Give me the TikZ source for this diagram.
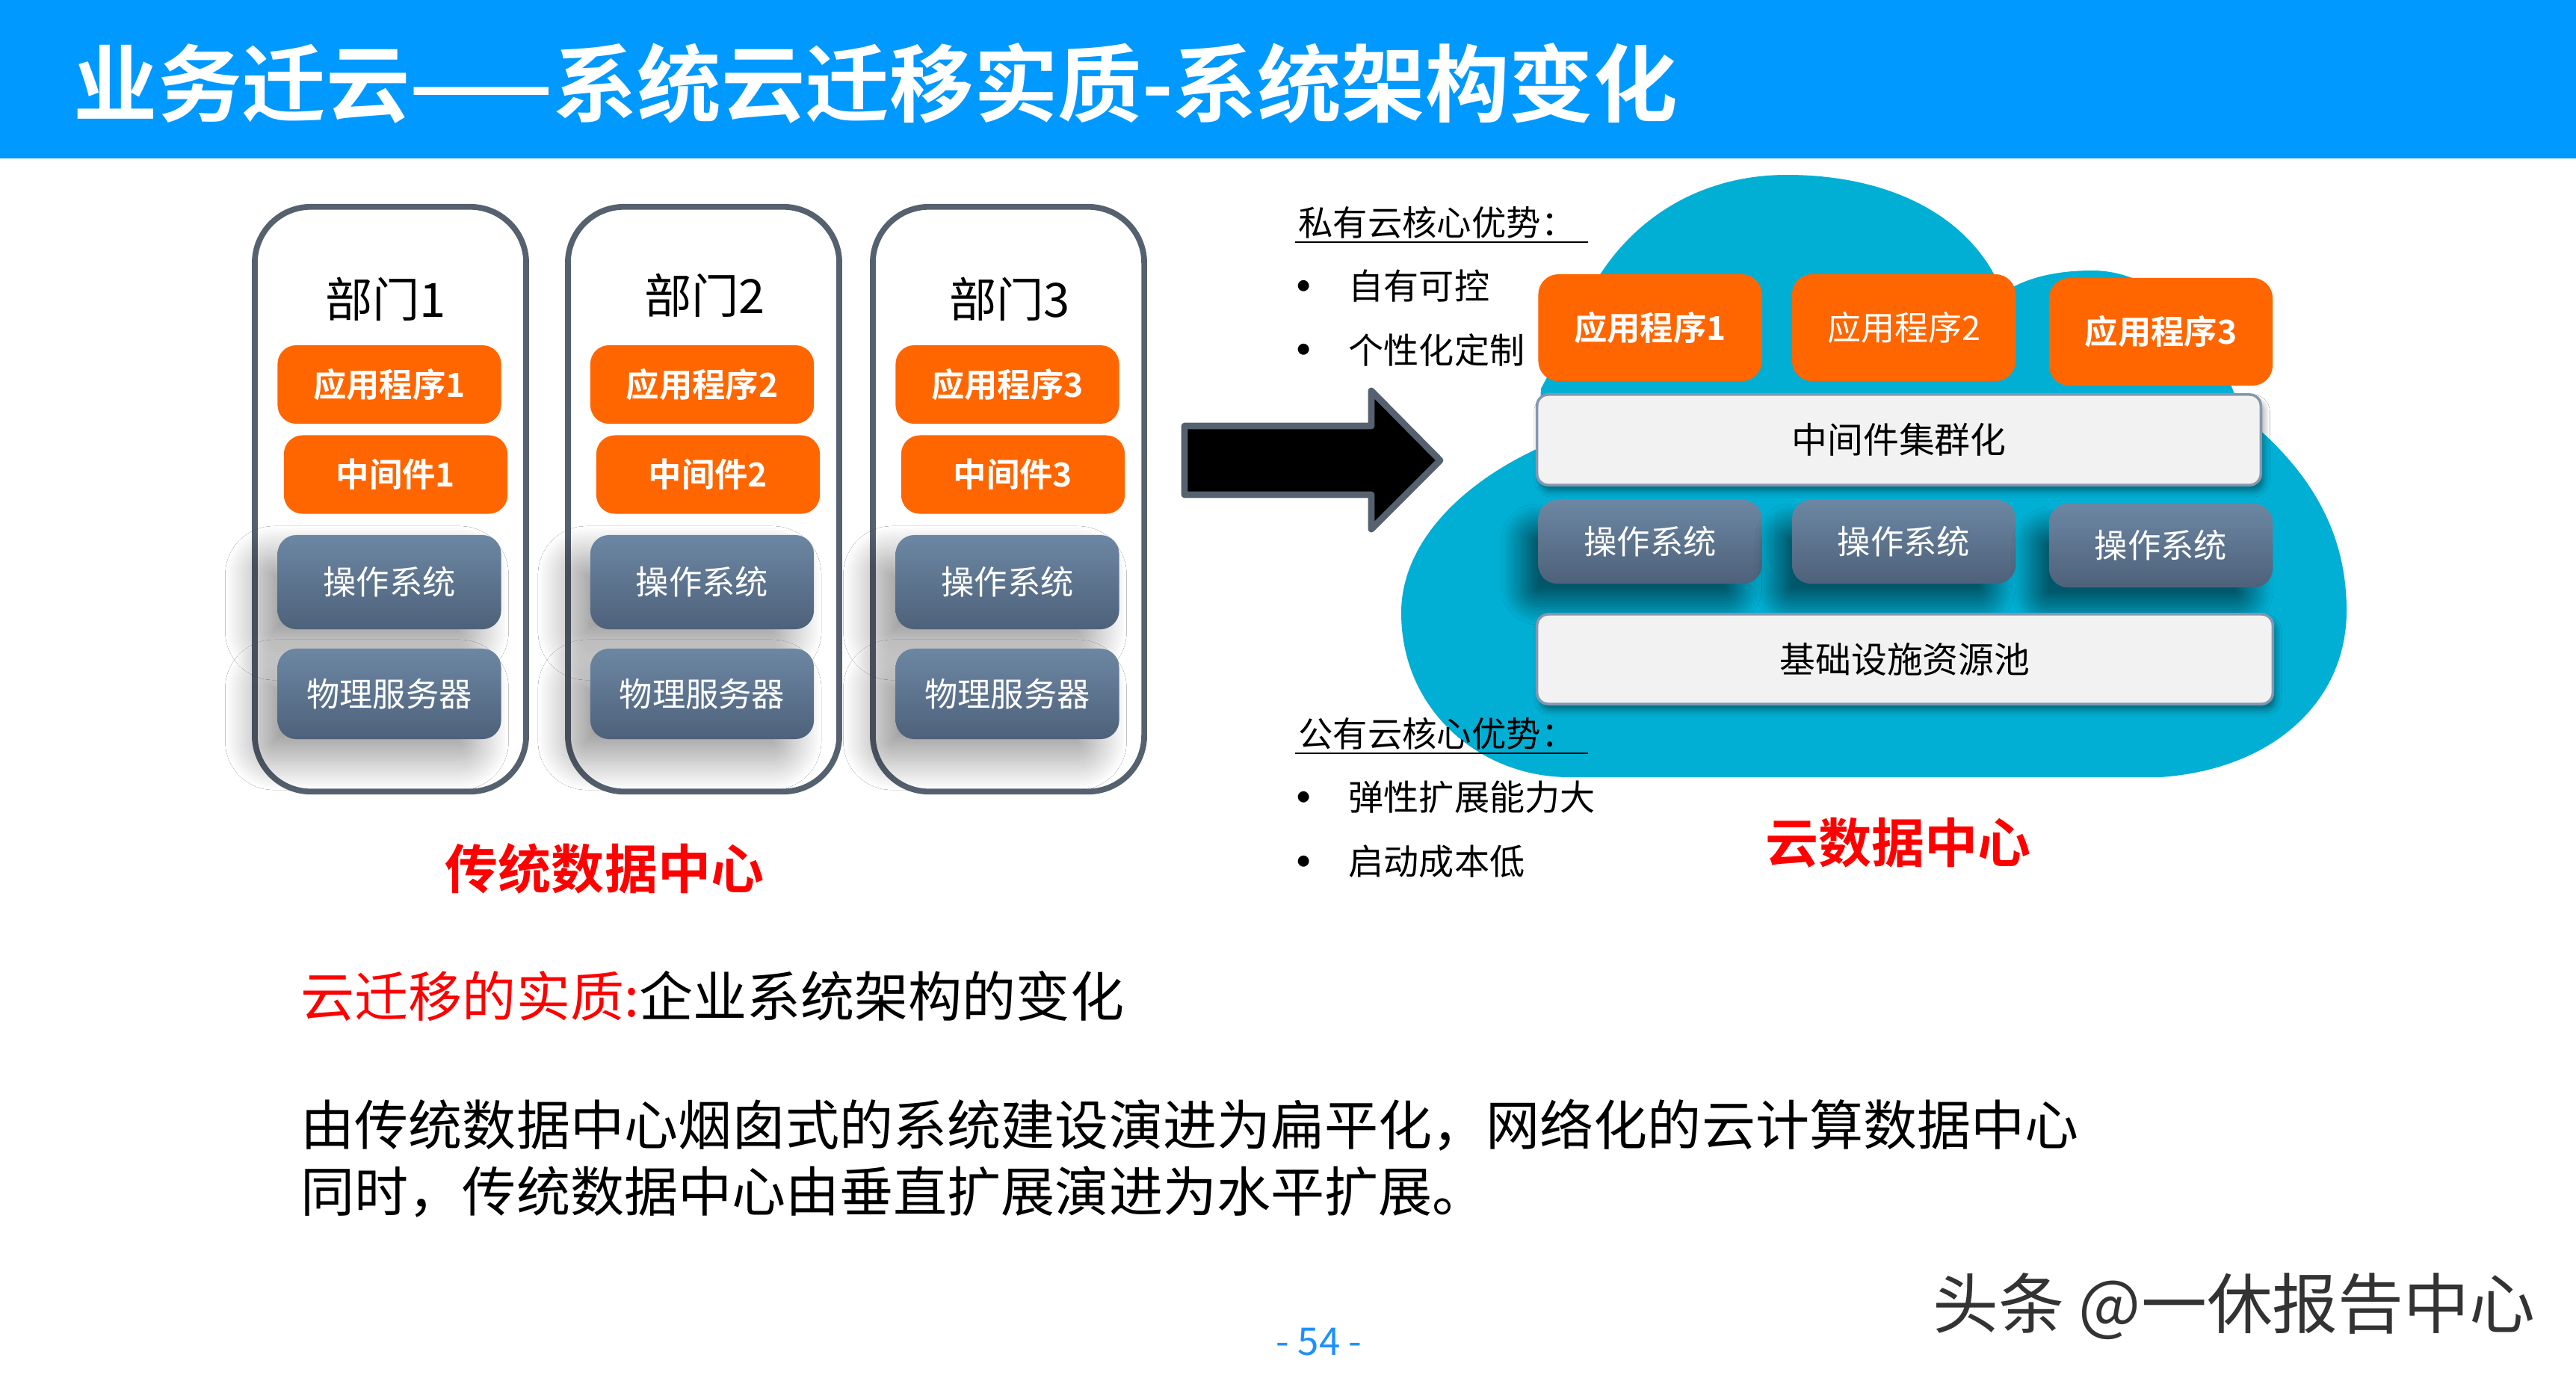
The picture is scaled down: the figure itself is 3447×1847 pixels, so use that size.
\documentclass[tikz,border=0pt]{standalone}
\usepackage{fontspec}
\setmainfont{Noto Sans CJK SC}[BoldFont={Noto Sans CJK SC Bold}]
\usepackage{tikz}
\usetikzlibrary{shadows.blur}
\definecolor{titleblue}{HTML}{0099FF}
\definecolor{apporange}{HTML}{FF6600}
\definecolor{slateline}{HTML}{56616F}
\definecolor{ostop}{HTML}{6C87A3}
\definecolor{osbottom}{HTML}{4E617A}
\definecolor{cloudblue}{HTML}{00AFD3}
\definecolor{layergray}{HTML}{F2F2F2}
\definecolor{layerline}{HTML}{8497B0}
\definecolor{pagenum}{HTML}{1E90FF}
\tikzset{
  deptbox/.style={draw=slateline,line width=2.2pt,rounded corners=0.75cm,minimum width=3.63cm,minimum height=7.82cm},
  deptname/.style={font=\fontsize{18pt}{20pt}\selectfont},
  appbox/.style={fill=apporange,rounded corners=0.25cm,text=white,inner sep=0pt,minimum width=2.99cm,minimum height=1.05cm,font=\fontsize{12.6pt}{14pt}\selectfont\bfseries},
  osbox/.style={top color=ostop,bottom color=osbottom,rounded corners=0.25cm,text=white,inner sep=0pt,minimum width=2.99cm,font=\fontsize{12.6pt}{14pt}\selectfont},
  deskshadow/.style={blur shadow={shadow xshift=-0.3cm,shadow yshift=-0.28cm,shadow blur radius=0.4cm,shadow blur steps=40,shadow opacity=38}},
  cloudshadow/.style={blur shadow={shadow xshift=-0.25cm,shadow yshift=-0.3cm,shadow blur radius=0.25cm,shadow blur steps=40,shadow opacity=50}},
  layerbox/.style={fill=layergray,draw=layerline,line width=1pt,rounded corners=0.15cm,inner sep=0pt,font=\fontsize{13.6pt}{15pt}\selectfont,
    blur shadow={shadow xshift=0.04cm,shadow yshift=-0.08cm,shadow blur radius=0.08cm,shadow opacity=40}},
  redtitle/.style={text=red,font=\fontsize{20.2pt}{22pt}\selectfont\bfseries},
  sidehead/.style={anchor=west,inner sep=1pt,font=\fontsize{13.2pt}{15pt}\selectfont},
  sideitem/.style={anchor=west,inner sep=0pt,font=\fontsize{13.4pt}{15pt}\selectfont},
  bulletdot/.style={inner sep=0pt,font=\fontsize{20pt}{22pt}\selectfont},
}
\begin{document}
\begin{tikzpicture}[x=0.01cm,y=-0.01cm]
  \useasboundingbox (0,0) rectangle (3447,1847);
  \fill[white] (0,0) rectangle (3447,1847);
  \fill[titleblue] (0,0) rectangle (3447,212);
  \node[anchor=west,text=white,inner sep=0pt,font=\fontsize{32pt}{34pt}\selectfont\bfseries] (title) at (98,111) {业务迁云——系统云迁移实质-系统架构变化};

  \node[deptbox] (dept1) at (522.5,668) {};
  \node[deptname] (name1) at (516,400) {部门1};
  \node[appbox] (appA) at (521,514.5) {应用程序1};
  \node[appbox] (mwA) at (529.5,635) {中间件1};
  \node[osbox,deskshadow,minimum height=1.26cm] (osA) at (521,779) {操作系统};
  \node[osbox,deskshadow,minimum height=1.21cm] (hostA) at (521,928.5) {物理服务器};

  \node[deptbox] (dept2) at (941.5,668) {};
  \node[deptname] (name2) at (943,395) {部门2};
  \node[appbox] (appB) at (939.5,514.5) {应用程序2};
  \node[appbox] (mwB) at (947.5,635) {中间件2};
  \node[osbox,deskshadow,minimum height=1.26cm] (osB) at (939.5,779) {操作系统};
  \node[osbox,deskshadow,minimum height=1.21cm] (hostB) at (939.5,928.5) {物理服务器};

  \node[deptbox] (dept3) at (1349.5,668) {};
  \node[deptname] (name3) at (1351,400) {部门3};
  \node[appbox] (appC) at (1348,514.5) {应用程序3};
  \node[appbox] (mwC) at (1355.5,635) {中间件3};
  \node[osbox,deskshadow,minimum height=1.26cm] (osC) at (1348,779) {操作系统};
  \node[osbox,deskshadow,minimum height=1.21cm] (hostC) at (1348,928.5) {物理服务器};

  \node[redtitle] (legacy) at (809,1162) {传统数据中心};

  \draw[fill=black,draw=slateline,line width=2.5pt,line join=round]
    (1585,570) -- (1835,570) -- (1835,523) -- (1927,616) -- (1835,708) -- (1835,662) -- (1585,662) -- cycle;

  \fill[cloudblue] (2062,520) -- (2058,600) .. controls (1950,650) and (1875,730) .. (1875,820)
    .. controls (1875,950) and (1980,1040) .. (2100,1040) -- (2890,1040)
    .. controls (3040,1030) and (3140,940) .. (3140,817)
    .. controls (3140,700) and (3080,620) .. (3000,555)
    .. controls (2960,430) and (2880,362) .. (2800,362)
    .. controls (2750,362) and (2710,372) .. (2680,392)
    .. controls (2640,290) and (2530,234) .. (2391,234)
    .. controls (2250,234) and (2150,320) .. (2110,430) -- cycle;

  \node[appbox,minimum height=1.43cm,rounded corners=0.27cm] (capp1) at (2208,438.5) {应用程序1};
  \node[appbox,minimum height=1.43cm,rounded corners=0.27cm,font=\fontsize{12.8pt}{14pt}\selectfont] (capp2) at (2547.5,438.5) {应用程序2};
  \node[appbox,minimum height=1.44cm,rounded corners=0.27cm] (capp3) at (2891.5,444) {应用程序3};
  \node[layerbox,minimum width=9.68cm,minimum height=1.21cm] (cluster) at (2541,588.5) {中间件集群化};
  \node[osbox,cloudshadow,minimum height=1.12cm] (cos1) at (2208,725) {操作系统};
  \node[osbox,cloudshadow,minimum height=1.12cm] (cos2) at (2547.5,725) {操作系统};
  \node[osbox,cloudshadow,minimum height=1.12cm] (cos3) at (2891.5,730) {操作系统};
  \node[layerbox,minimum width=9.84cm,minimum height=1.2cm] (pool) at (2549,882) {基础设施资源池};
  \node[redtitle] (clouddc) at (2540,1128) {云数据中心};

  \node[sidehead] (privhead) at (1733,298) {私有云核心优势：};
  \draw[line width=0.7pt] (privhead.south west) -- ([xshift=0.12cm]privhead.south east);
  \node[bulletdot] (dotA) at (1745,392) {•};
  \node[sideitem] (own) at (1804,383) {自有可控};
  \node[bulletdot] (dotB) at (1745,477) {•};
  \node[sideitem] (custom) at (1804,468) {个性化定制};
  \node[sidehead] (pubhead) at (1733,982) {公有云核心优势：};
  \draw[line width=0.7pt] (pubhead.south west) -- ([xshift=0.12cm]pubhead.south east);
  \node[bulletdot] (dotC) at (1745,1076) {•};
  \node[sideitem] (elastic) at (1804,1067) {弹性扩展能力大};
  \node[bulletdot] (dotD) at (1745,1162) {•};
  \node[sideitem] (cheap) at (1804,1153) {启动成本低};

  \node[anchor=west,inner sep=0pt,font=\fontsize{20.5pt}{24pt}\selectfont] (essence) at (402,1333) {\textcolor{red}{云迁移的实质:}企业系统架构的变化};
  \node[anchor=west,align=left,inner sep=0pt,font=\fontsize{20.5pt}{25.3pt}\selectfont] (trend) at (402,1550) {由传统数据中心烟囱式的系统建设演进为扁平化，网络化的云计算数据中心\\同时，传统数据中心由垂直扩展演进为水平扩展。};

  \node[text=pagenum,font=\fontsize{14.5pt}{16pt}\selectfont] (pageno) at (1765,1796) {- 54 -};
  \node[anchor=west,text=black!80,font=\fontsize{25pt}{28pt}\selectfont] (mark) at (2574,1748) {头条 @一休报告中心};
\end{tikzpicture}
\end{document}
